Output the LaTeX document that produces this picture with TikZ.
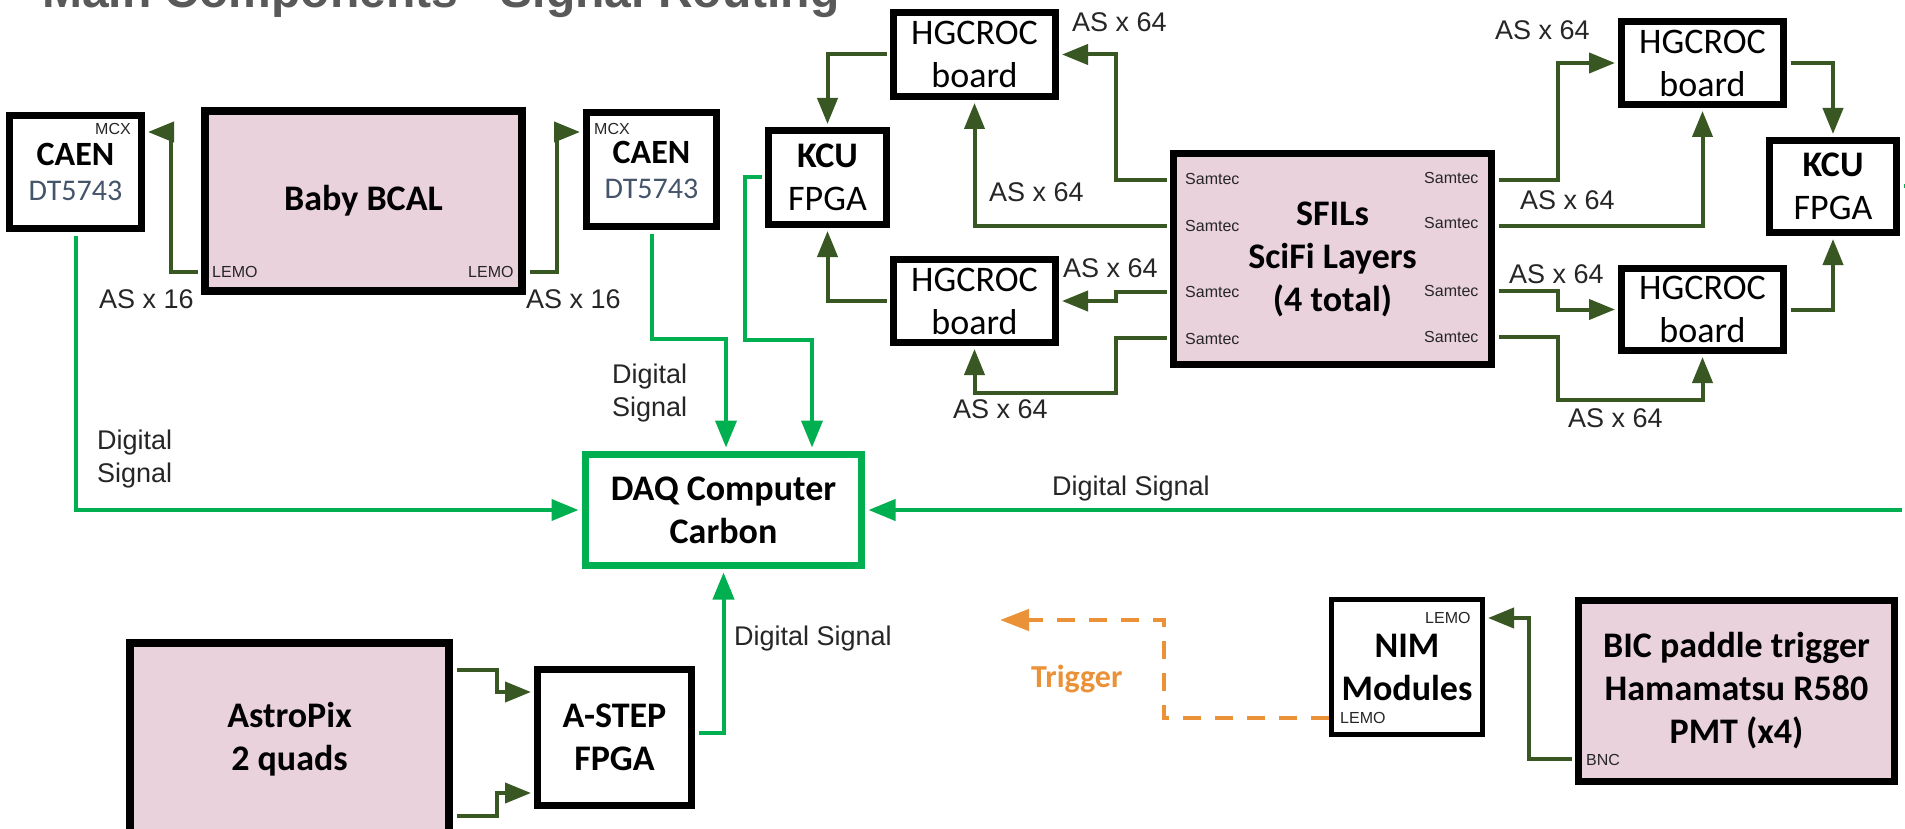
\documentclass[tikz,border=0pt]{standalone}
\usepackage{fontspec}
\setmainfont{Carlito}
\newfontfamily\arialf{Liberation Sans}
\usetikzlibrary{arrows.meta}
\definecolor{dkgreen}{RGB}{56,87,35}
\definecolor{brgreen}{RGB}{0,176,80}
\definecolor{pinkfill}{RGB}{234,210,221}
\definecolor{trigorange}{RGB}{235,145,55}
\definecolor{slate}{RGB}{68,84,106}
\definecolor{labelgray}{RGB}{38,38,38}
\definecolor{titlegray}{RGB}{89,89,89}
\tikzset{
  box/.style={draw=black, line width=7pt, fill=white, inner sep=0pt, align=center,
    font=\fontsize{36}{43}\selectfont},
  pinkbox/.style={box, fill=pinkfill},
  dg/.style={draw=dkgreen, line width=4pt, -{Triangle[length=26pt,width=20pt]},
    shorten >=3pt, shorten <=3.5pt},
  gs/.style={draw=brgreen, line width=4pt, -{Triangle[length=27pt,width=21pt]},
    shorten >=3.5pt, shorten <=3.5pt},
  trigline/.style={draw=trigorange, line width=4.5pt, dash pattern=on 18pt off 14pt,
    -{Triangle[length=29pt,width=21pt]}},
  lbl/.style={font=\arialf\fontsize{27}{33}\selectfont, text=labelgray, inner sep=0pt,
    anchor=base west},
  lbltwo/.style={font=\arialf\fontsize{27}{33}\selectfont, text=labelgray, inner sep=0pt,
    anchor=north west, align=left},
  port/.style={font=\arialf\fontsize{16}{18}\selectfont, text=labelgray, inner sep=0pt,
    anchor=base west}
}
\begin{document}
\begin{tikzpicture}[x=1pt,y=-1pt]
\useasboundingbox (0,0) rectangle (1905,829);
\clip (0,0) rectangle (1905,829);
\fill[white] (0,0) rectangle (1905,829);

% title (cut off at the top)
\node[font=\arialf\bfseries\fontsize{48}{50}\selectfont, text=titlegray, anchor=base west,
  inner sep=0pt] (title) at (42,7.5) {Main Components - Signal Routing};

% boxes
\node[box, minimum width=132pt, minimum height=113pt, font=\bfseries\fontsize{34}{37}\selectfont]
  (caenL) at (75.5,172) {\raisebox{-2pt}{CAEN}\\{\mdseries\fontsize{30}{37}\selectfont\color{slate}DT5743}};
\node[pinkbox, line width=8pt, minimum width=317pt, minimum height=180pt, font=\bfseries\fontsize{36}{43}\selectfont]
  (bcal) at (363.5,201) {Baby BCAL};
\node[box, minimum width=130pt, minimum height=114pt, font=\bfseries\fontsize{34}{37}\selectfont]
  (caenR) at (651.5,169.5) {\raisebox{-2pt}{CAEN}\\{\mdseries\fontsize{30}{37}\selectfont\color{slate}DT5743}};
\node[box, minimum width=118pt, minimum height=94pt]
  (kcuL) at (827.5,177.5) {\textbf{KCU}\\FPGA};
\node[box, minimum width=162pt, minimum height=84pt]
  (hgTL) at (974.5,54.5) {HGCROC\\board};
\node[box, minimum width=162pt, minimum height=83pt]
  (hgBL) at (974.5,301) {HGCROC\\board};
\node[pinkbox, minimum width=318pt, minimum height=211pt, font=\bfseries\fontsize{36}{43}\selectfont]
  (sfil) at (1332.5,259) {SFILs\\SciFi Layers\\(4 total)};
\node[box, minimum width=162pt, minimum height=83pt]
  (hgTR) at (1702.5,63) {HGCROC\\board};
\node[box, minimum width=162pt, minimum height=82pt]
  (hgBR) at (1702.5,309.5) {HGCROC\\board};
\node[box, minimum width=127pt, minimum height=92pt]
  (kcuR) at (1833,186.5) {\textbf{KCU}\\FPGA};
\node[box, draw=brgreen, minimum width=276pt, minimum height=111pt, font=\bfseries\fontsize{36}{43}\selectfont]
  (daq) at (723.5,510) {DAQ Computer\\Carbon};
\node[pinkbox, line width=8pt, minimum width=319pt, minimum height=192pt, font=\bfseries\fontsize{36}{43}\selectfont]
  (astro) at (289.5,739) {AstroPix\\2 quads};
\node[box, minimum width=154pt, minimum height=136pt, font=\bfseries\fontsize{36}{43}\selectfont]
  (astep) at (614.5,737.5) {A-STEP\\FPGA};
\node[box, line width=5pt, minimum width=151pt, minimum height=135pt, font=\bfseries\fontsize{36}{43}\selectfont]
  (nim) at (1407,667) {NIM\\Modules};
\node[pinkbox, minimum width=316pt, minimum height=181pt, font=\bfseries\fontsize{36}{43}\selectfont]
  (bic) at (1736.5,691) {BIC paddle trigger\\Hamamatsu R580\\PMT (x4)};

% port labels
\node[port] (mcxL) at (95,135) {MCX};
\node[port] (mcxR) at (594,135) {MCX};
\node[port] (lemoBL) at (212,277) {LEMO};
\node[port] (lemoBR) at (468,277) {LEMO};
\node[port] (samL1) at (1185,185) {Samtec};
\node[port] (samL2) at (1185,231) {Samtec};
\node[port] (samL3) at (1185,297) {Samtec};
\node[port] (samL4) at (1185,344) {Samtec};
\node[port] (samR1) at (1424,184) {Samtec};
\node[port] (samR2) at (1424,229) {Samtec};
\node[port] (samR3) at (1424,296) {Samtec};
\node[port] (samR4) at (1424,342) {Samtec};
\node[port] (lemoNT) at (1425,623) {LEMO};
\node[port] (lemoNB) at (1340,723) {LEMO};
\node[port] (bnc) at (1586,765) {BNC};

% Samtec connection points
\coordinate (sL1) at (sfil.west |- 0,180);
\coordinate (sL2) at (sfil.west |- 0,226);
\coordinate (sL3) at (sfil.west |- 0,292);
\coordinate (sL4) at (sfil.west |- 0,338);
\coordinate (sR1) at (sfil.east |- 0,180);
\coordinate (sR2) at (sfil.east |- 0,226);
\coordinate (sR3) at (sfil.east |- 0,291);
\coordinate (sR4) at (sfil.east |- 0,337);

% dark green analog connectors
\draw[dg] (bcal.west |- 0,272) -- (171,272) -- (171,132) -- (caenL.east |- 0,132);
\draw[dg] (bcal.east |- 0,272) -- (557,272) -- (557,132) -- (caenR.west |- 0,132);
\draw[dg] (hgTL.west) -| (kcuL.north);
\draw[dg] (hgBL.west) -| (kcuL.south);
\draw[dg] (sL1) -- (1116,180) |- (hgTL.east);
\draw[dg] (sL2) -| (hgTL.south);
\draw[dg] (sL3) -- (1116,292) |- (hgBL.east);
\draw[dg] (sL4) -- (1116,338) -- (1116,393) -| (hgBL.south);
\draw[dg] (sR1) -- (1558,180) |- (hgTR.west);
\draw[dg] (sR2) -| (hgTR.south);
\draw[dg] (sR3) -- (1558,291) |- (hgBR.west);
\draw[dg] (sR4) -- (1558,337) -- (1558,400) -| (hgBR.south);
\draw[dg] (hgTR.east) -| (kcuR.north);
\draw[dg] (hgBR.east) -| (kcuR.south);
\draw[dg] (bic.west |- 0,759) -- (1529,759) |- (nim.east |- 0,618);
\draw[dg] (astro.east |- 0,670) -- (497,670) |- (astep.west |- 0,692);
\draw[dg] (astro.east |- 0,816) -- (497,816) |- (astep.west |- 0,793);

% bright green digital connectors
\coordinate (rightIn) at (1905,510);
\coordinate (rightOut) at (1905,186);
\draw[gs] (caenL.south) |- (daq.west);
\draw[gs] (caenR.south) |- (726,339) -- (daq.north -| 726,0);
\draw[gs] (kcuL.west) -| (745,340) -| (daq.north -| 812,0);
\draw[gs] (rightIn) -- (daq.east);
\draw[gs] (astep.east |- 0,733) -| (daq.south);
\draw[draw=brgreen, line width=4pt, shorten <=3.5pt] (kcuR.east |- 0,186) -- (rightOut);

% trigger
\coordinate (trigEnd) at (1000,620);
\draw[trigline] (nim.west |- 0,718) -- (1164,718) -- (1164,620) -- (trigEnd);
\node[font=\bfseries\fontsize{32}{38}\selectfont, text=trigorange, anchor=base west, inner sep=0pt]
  (trig) at (1031,687) {Trigger};

% labels
\node[lbl] (as16L) at (99,308) {AS x 16};
\node[lbl] (as16R) at (526,308) {AS x 16};
\node[lbltwo] (digL) at (97,429.5) {Digital\\Signal};
\node[lbltwo] (digM) at (612,363.5) {Digital\\Signal};
\node[lbl] (digB) at (734,645) {Digital Signal};
\node[lbl] (digR) at (1052,495) {Digital Signal};
\node[lbl] (as64a) at (1072,32) {AS x 64};
\node[lbl] (as64b) at (989,202) {AS x 64};
\node[lbl] (as64c) at (1063,277) {AS x 64};
\node[lbl] (as64d) at (953,418) {AS x 64};
\node[lbl] (as64e) at (1495,40) {AS x 64};
\node[lbl] (as64f) at (1520,210) {AS x 64};
\node[lbl] (as64g) at (1509,283) {AS x 64};
\node[lbl] (as64h) at (1568,427) {AS x 64};
\end{tikzpicture}
\end{document}
